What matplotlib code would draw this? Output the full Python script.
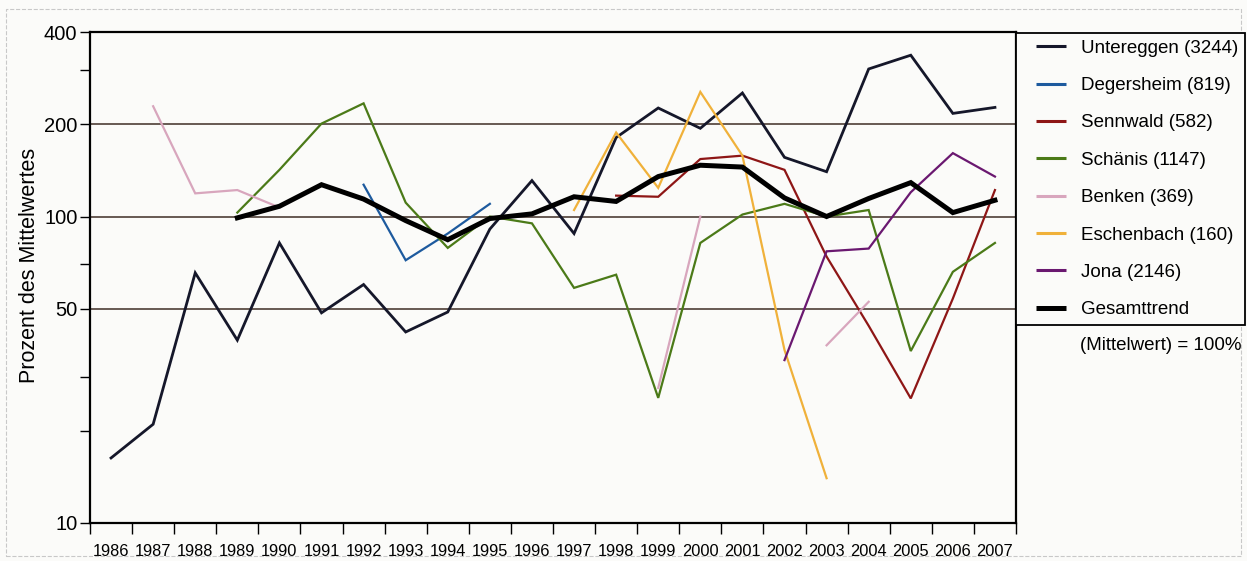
import numpy as np
import matplotlib
matplotlib.use("Agg")
import matplotlib.pyplot as plt
from matplotlib.lines import Line2D
from matplotlib.ticker import FixedLocator, NullFormatter

plt.rcParams['font.family'] = ['Liberation Sans', 'DejaVu Sans']

nan = np.nan
years = list(range(1986, 2008))

# Werte in Prozent des Mittelwertes
untereggen = [16.3, 21, 65.5, 39.5, 82, 48.5, 60, 42, 48.8, 91, 131, 88,
              181, 226, 194, 253, 156, 140, 303, 336, 217, 227]
degersheim = [nan, nan, nan, nan, nan, nan, 127, 72, 88, 110, nan, nan,
              nan, nan, nan, nan, nan, nan, nan, nan, nan, nan]
sennwald = [nan, nan, nan, nan, nan, nan, nan, nan, nan, nan, nan, nan,
            117, 116, 154, 158, 142, 74, 44, 25.5, 54, 122]
schaenis = [nan, nan, nan, 103, 142, 201, 234, 111, 79, 100, 95, 58.5,
            64.6, 25.6, 82, 101.5, 110, 100, 105, 36.4, 66, 82]
benken = [nan, 229, 119, 122, 107, nan, nan, nan, nan, nan, nan, nan,
          nan, 27.6, 100, nan, nan, 38, 52.7, nan, nan, nan]
eschenbach = [nan, nan, nan, nan, nan, nan, nan, nan, nan, nan, nan, 105,
              188, 124, 255, 158, 36.7, 14, nan, nan, nan, nan]
jona = [nan, nan, nan, nan, nan, nan, nan, nan, nan, nan, nan, nan,
        nan, nan, nan, nan, 34, 77, 78.6, 120, 161, 135]
gesamt = [nan, nan, nan, 99, 108, 127, 114, 97, 84, 98.5, 102, 116,
          112, 135, 147, 145, 115, 100, 114.5, 129, 103, 113]

series = [
    (untereggen, 'Untereggen (3244)', '#15172a', 2.0),
    (degersheim, 'Degersheim (819)', '#1d5a9e', 1.6),
    (sennwald, 'Sennwald (582)', '#8e1616', 1.6),
    (schaenis, 'Schänis (1147)', '#4b7a18', 1.6),
    (benken, 'Benken (369)', '#d8a6bd', 1.6),
    (eschenbach, 'Eschenbach (160)', '#f0b13a', 1.6),
    (jona, 'Jona (2146)', '#6a1870', 1.6),
    (gesamt, 'Gesamttrend', '#000000', 3.6),
]

fig = plt.figure(figsize=(12.47, 5.61), dpi=100, facecolor='#fbfbf9')
ax = fig.add_axes([90/1247, 1-523/561, (1016-90)/1247, (523-32)/561])
ax.set_facecolor('#fbfbf9')

# Rahmen um die ganze Grafik
fig.patches.append(plt.Rectangle((6/1247, 1-556/561), 1235/1247, 547/561,
                                 transform=fig.transFigure, fill=False,
                                 edgecolor='#c8c8c8', lw=0.8, ls='--'))

ax.set_yscale('log')
ax.set_ylim(10, 400)
ax.set_xlim(1985.5, 2007.5)

for yv in [50, 100, 200]:
    ax.axhline(yv, color='#5b4d45', lw=1.3, zorder=1)

handles = []
for vals, lab, col, lw in series:
    ax.plot(years, vals, color=col, lw=lw, zorder=3, solid_joinstyle='miter')
    handles.append(Line2D([], [], ls='none', marker='_', markersize=22,
                          markeredgewidth=2.2 if lw < 3 else 3.6,
                          color=col, label=lab))

ax.yaxis.set_major_locator(FixedLocator([10, 50, 100, 200, 400]))
ax.yaxis.set_minor_locator(FixedLocator([20, 30, 70, 300]))
ax.yaxis.set_major_formatter(plt.FixedFormatter(['10', '50', '100', '200', '400']))
ax.yaxis.set_minor_formatter(NullFormatter())
ax.tick_params(axis='y', which='both', length=7, width=1, labelsize=14.5, pad=2)

ax.xaxis.set_major_locator(FixedLocator(years))
ax.set_xticklabels([str(y) for y in years])
ax.xaxis.set_minor_locator(FixedLocator(np.arange(1985.5, 2008, 1)))
ax.tick_params(axis='x', which='major', length=0, labelsize=11.8, pad=15)
ax.tick_params(axis='x', which='minor', length=8, width=1)

for s in ax.spines.values():
    s.set_linewidth(1.6)
    s.set_color('black')

ax.set_ylabel('Prozent des Mittelwertes', fontsize=15.5)
ax.yaxis.set_label_coords(-0.054, 0.525)

leg = fig.legend(handles=handles, loc='upper left',
                 bbox_to_anchor=(1016/1247, 1-33/561), fontsize=13.5,
                 frameon=True, fancybox=False, edgecolor='black',
                 framealpha=1, facecolor='#fbfbf9', handlelength=3.0,
                 labelspacing=1.08, borderpad=0.35, handletextpad=0.1,
                 borderaxespad=0)
leg.get_frame().set_linewidth(1.3)

fig.text(1080/1247, 1-346/561, '(Mittelwert) = 100%', fontsize=13.5,
         va='center', ha='left')

fig.savefig('out.png', dpi=100, facecolor=fig.get_facecolor())
